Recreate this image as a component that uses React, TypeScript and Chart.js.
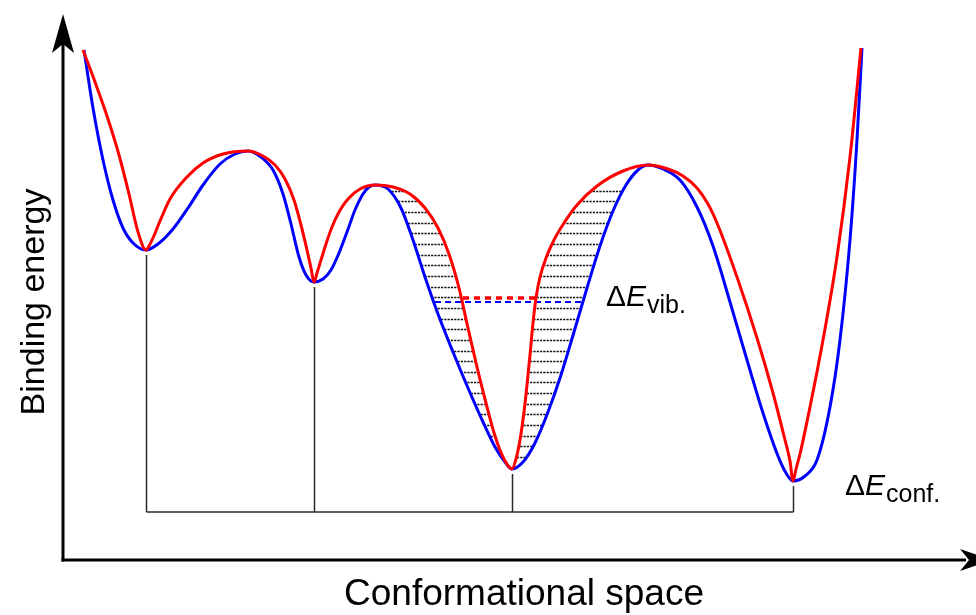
import React, { useEffect, useRef } from "react";
import { Chart, registerables } from "chart.js";

Chart.register(...registerables);

// Conformational coordinate (arbitrary units) and binding energy (arbitrary units)
const blueX = [21, 30, 40, 50, 60, 70, 83, 95, 110, 125, 140, 157, 172, 185, 198, 210, 220, 228, 236, 243, 251, 260, 268, 276, 284, 292, 300, 306, 312, 325, 338, 350, 362, 375, 390, 405, 420, 432, 442, 449, 460, 472, 485, 498, 511, 524, 537, 550, 563, 575, 585, 600, 617, 634, 650, 667, 684, 700, 715, 723, 730, 742, 754, 767, 777, 787, 794, 799];
const blueY = [510, 452, 400, 360, 332, 317, 310, 316, 331, 352, 375, 396, 406, 409, 403, 390, 366, 336, 303, 285, 278, 281, 290, 307, 328, 350, 366, 373, 375, 371, 352, 320, 283, 246, 208, 172, 138, 113, 98, 91, 98, 117, 148, 185, 228, 272, 314, 349, 375, 390, 395, 391, 380, 353, 314, 258, 200, 147, 104, 87, 79, 84, 100, 153, 220, 320, 420, 512];

const redX = [20, 32, 44, 56, 66, 75, 83, 86, 90, 97, 107, 124, 140, 160, 185, 200, 212, 222, 231, 238, 244, 248, 251, 254, 258, 263, 269, 276, 285, 297, 312, 330, 347, 362, 375, 386, 396, 405, 414, 423, 432, 441, 449, 453, 457, 461, 464, 467, 470, 473, 477, 483, 491, 501, 514, 534, 560, 585, 605, 620, 634, 645, 654, 674, 694, 710, 721, 727, 730, 733, 737, 747, 760, 774, 787, 798];
const redY = [510, 478, 444, 405, 366, 328, 310, 314, 322, 339, 361, 383, 397, 406, 409, 404, 395, 381, 360, 335, 310, 292, 278, 287, 300, 316, 333, 348, 361, 371, 375, 373, 366, 352, 332, 306, 272, 232, 193, 157, 124, 101, 91, 101, 120, 148, 175, 205, 237, 262, 283, 302, 320, 337, 355, 374, 389, 395, 391, 384, 372, 356, 337, 283, 222, 167, 124, 99, 79, 91, 106, 153, 220, 303, 403, 512];

// Barriers enclosing the shaded well
const barrierLeft = 312;
const barrierRight = 585;

// Vibrational levels inside the shaded well
const vibLevelRed = 262;
const vibLevelBlue = 258;

// Baseline of the conformational-energy bracket
const confLevel = 48;

const FONT = "'Liberation Sans', Arial, Helvetica, sans-serif";

function localMinima(xs: number[], ys: number[]) {
  const out: { x: number; y: number }[] = [];
  for (let i = 1; i < ys.length - 1; i++) {
    if (ys[i] < ys[i - 1] && ys[i] < ys[i + 1]) out.push({ x: xs[i], y: ys[i] });
  }
  return out;
}

function drawDeltaLabel(ctx: CanvasRenderingContext2D, x: number, baseline: number, sub: string) {
  ctx.fillStyle = "#000";
  ctx.textAlign = "left";
  ctx.textBaseline = "alphabetic";
  ctx.font = `30px ${FONT}`;
  ctx.fillText("Δ", x, baseline);
  let cx = x + ctx.measureText("Δ").width;
  ctx.font = `italic 30px ${FONT}`;
  ctx.fillText("E", cx, baseline);
  cx += ctx.measureText("E").width + 1;
  ctx.font = `25px ${FONT}`;
  ctx.fillText(sub, cx, baseline + 7);
}

const schematicPlugin = {
  id: "schematic",
  beforeDatasetsDraw(chart: any) {
    const ctx: CanvasRenderingContext2D = chart.ctx;
    const xs = chart.scales.x;
    const ys = chart.scales.y;
    const area = chart.chartArea;
    const redLine = chart.getDatasetMeta(0).dataset;
    const blueLine = chart.getDatasetMeta(1).dataset;
    redLine.updateControlPoints(area, "x");
    blueLine.updateControlPoints(area, "x");

    const rA = redX.indexOf(barrierLeft);
    const rB = redX.indexOf(barrierRight);
    const bA = blueX.indexOf(barrierLeft);
    const bB = blueX.indexOf(barrierRight);
    const x0 = xs.getPixelForValue(barrierLeft);
    const x1 = xs.getPixelForValue(barrierRight);

    // hatching between the two curves of the central well
    ctx.save();
    ctx.beginPath();
    blueLine.path(ctx, bA, bB - bA + 1);
    ctx.closePath();
    redLine.path(ctx, rA, rB - rA + 1);
    ctx.closePath();
    ctx.clip("evenodd");
    ctx.strokeStyle = "#111";
    ctx.lineWidth = 1.5;
    ctx.setLineDash([2.2, 1.1]);
    const bottom = ys.getPixelForValue(103);
    for (let py = bottom; py > 186; py -= 10.65) {
      ctx.beginPath();
      ctx.moveTo(x0, Math.round(py) + 0.5);
      ctx.lineTo(x1, Math.round(py) + 0.5);
      ctx.stroke();
    }
    ctx.restore();

    // blue vibrational level
    ctx.save();
    ctx.beginPath();
    blueLine.path(ctx, bA, bB - bA + 1);
    ctx.closePath();
    ctx.clip();
    ctx.strokeStyle = "#0000ff";
    ctx.lineWidth = 2.2;
    ctx.setLineDash([6, 4]);
    const yb = ys.getPixelForValue(vibLevelBlue);
    ctx.beginPath();
    ctx.moveTo(x0, yb);
    ctx.lineTo(x1, yb);
    ctx.stroke();
    ctx.restore();

    // red vibrational level
    ctx.save();
    ctx.beginPath();
    redLine.path(ctx, rA, rB - rA + 1);
    ctx.closePath();
    ctx.clip();
    ctx.strokeStyle = "#ff0000";
    ctx.lineWidth = 3.5;
    ctx.setLineDash([6, 5]);
    const yr = ys.getPixelForValue(vibLevelRed);
    ctx.beginPath();
    ctx.moveTo(x0, yr);
    ctx.lineTo(x1, yr);
    ctx.stroke();
    ctx.restore();

    // drop lines from each minimum to the bracket
    const mins = localMinima(blueX, blueY);
    const yBase = ys.getPixelForValue(confLevel);
    ctx.save();
    ctx.strokeStyle = "#2a2a2a";
    ctx.lineWidth = 1.5;
    ctx.beginPath();
    mins.forEach((m) => {
      const px = Math.round(xs.getPixelForValue(m.x)) + 0.5;
      ctx.moveTo(px, ys.getPixelForValue(m.y) + 5);
      ctx.lineTo(px, yBase);
    });
    ctx.moveTo(Math.round(xs.getPixelForValue(mins[0].x)) + 0.5, yBase);
    ctx.lineTo(Math.round(xs.getPixelForValue(mins[mins.length - 1].x)) + 0.5, yBase);
    ctx.stroke();
    ctx.restore();
  },
  afterDraw(chart: any) {
    const ctx: CanvasRenderingContext2D = chart.ctx;
    const xs = chart.scales.x;
    const ys = chart.scales.y;
    const area = chart.chartArea;
    const ox = area.left;
    const oy = area.bottom;

    ctx.save();
    ctx.strokeStyle = "#000";
    ctx.fillStyle = "#000";
    ctx.lineWidth = 3;
    ctx.setLineDash([]);
    // y axis
    ctx.beginPath();
    ctx.moveTo(ox, oy + 1.5);
    ctx.lineTo(ox, 40);
    ctx.stroke();
    ctx.beginPath();
    ctx.moveTo(ox, 14);
    ctx.lineTo(ox + 11, 53);
    ctx.lineTo(ox, 44);
    ctx.lineTo(ox - 11, 53);
    ctx.closePath();
    ctx.fill();
    // x axis
    ctx.beginPath();
    ctx.moveTo(ox - 1.5, oy);
    ctx.lineTo(chart.width - 10, oy);
    ctx.stroke();
    ctx.beginPath();
    ctx.moveTo(chart.width + 16, oy);
    ctx.lineTo(chart.width - 16, oy - 11);
    ctx.lineTo(chart.width - 7, oy);
    ctx.lineTo(chart.width - 16, oy + 11);
    ctx.closePath();
    ctx.fill();

    // axis titles
    ctx.font = `37px ${FONT}`;
    ctx.textAlign = "center";
    ctx.textBaseline = "alphabetic";
    ctx.fillText("Conformational space", 524, 605);
    ctx.save();
    ctx.translate(44, 302);
    ctx.rotate(-Math.PI / 2);
    ctx.font = `34px ${FONT}`;
    ctx.fillText("Binding energy", 0, 0);
    ctx.restore();

    // energy difference labels
    drawDeltaLabel(ctx, xs.getPixelForValue(543), ys.getPixelForValue(254), "vib.");
    drawDeltaLabel(ctx, xs.getPixelForValue(782), ys.getPixelForValue(65), "conf.");
    ctx.restore();
  },
};

export default function App() {
  const canvasRef = useRef<HTMLCanvasElement | null>(null);

  useEffect(() => {
    const canvas = canvasRef.current;
    if (!canvas) return;
    const chart = new Chart(canvas, {
      type: "line",
      data: {
        datasets: [
          {
            label: "red",
            data: redX.map((x, i) => ({ x, y: redY[i] })),
            borderColor: "#ff0000",
            borderWidth: 3,
            pointRadius: 0,
            cubicInterpolationMode: "monotone",
            fill: false,
          },
          {
            label: "blue",
            data: blueX.map((x, i) => ({ x, y: blueY[i] })),
            borderColor: "#0000ff",
            borderWidth: 3,
            pointRadius: 0,
            cubicInterpolationMode: "monotone",
            fill: false,
          },
        ],
      },
      options: {
        responsive: false,
        animation: false,
        devicePixelRatio: 1,
        layout: { padding: { left: 63, right: 13, top: 20, bottom: 55 } },
        plugins: { legend: { display: false }, tooltip: { enabled: false }, title: { display: false } },
        scales: {
          x: { type: "linear", min: 0, max: 900, display: false },
          y: { type: "linear", min: 0, max: 540, display: false },
        },
      },
      plugins: [schematicPlugin],
    });
    return () => chart.destroy();
  }, []);

  return (
    <div style={{ position: "fixed", left: 0, top: 0, width: 976, height: 615, background: "#fff" }}>
      <canvas ref={canvasRef} width={976} height={615} style={{ display: "block" }} />
    </div>
  );
}
